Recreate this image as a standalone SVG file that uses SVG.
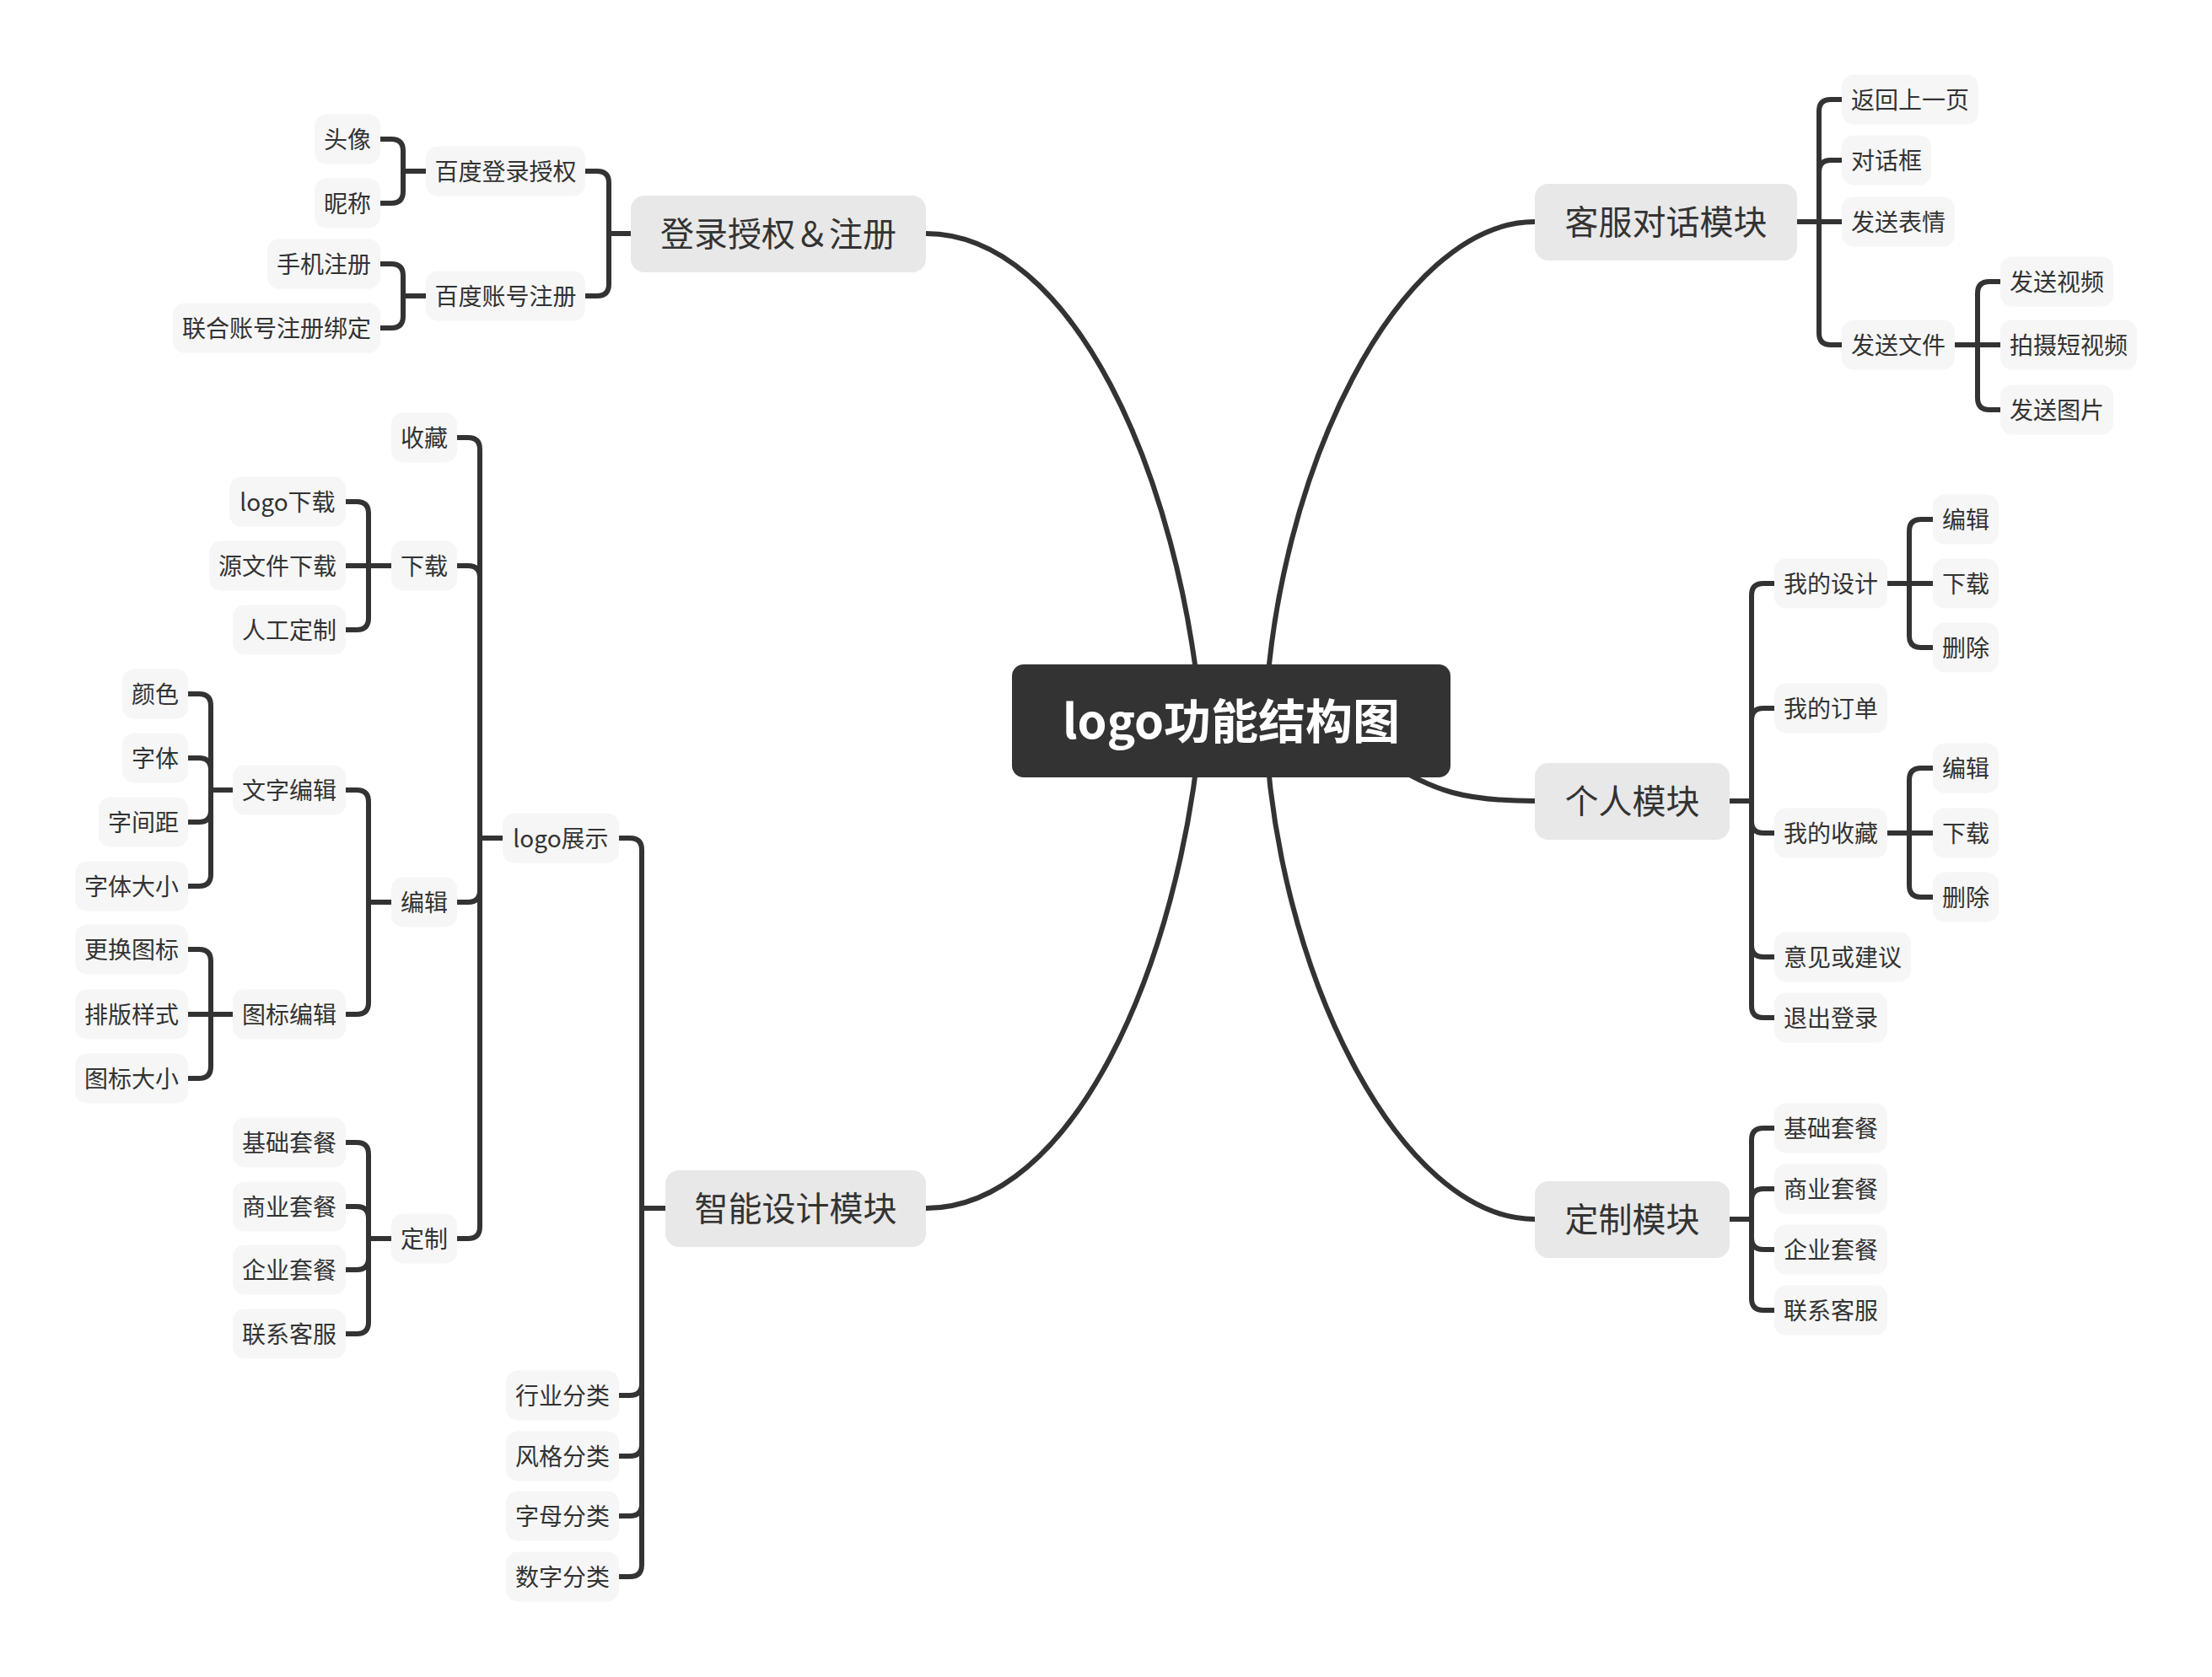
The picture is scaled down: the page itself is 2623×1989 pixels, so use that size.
<svg xmlns="http://www.w3.org/2000/svg" width="2623" height="1989" viewBox="0 0 2623 1989">
<style>
text{font-family:"Noto Sans CJK SC","Noto Sans",sans-serif;fill:#333;text-anchor:middle;dominant-baseline:central}
.leaf rect{fill:#f6f6f6}
.leaf text{font-size:28px}
.br rect{fill:#e8e8e8}
.br text{font-size:40px}
#root rect{fill:#333}
#root text{fill:#fff;font-size:56px;font-weight:bold}
#connectors path{fill:none;stroke:#333;stroke-width:6}
</style>
<rect width="2623" height="1989" fill="#fff"/>
<g id="connectors">
<path d="M1098 277 C1270 277 1400 560 1425 860"/>
<path d="M1820 263 C1660 263 1510 560 1500 860"/>
<path d="M1098 1433 C1270 1433 1400 1150 1425 850"/>
<path d="M1820 1446 C1660 1446 1510 1150 1500 850"/>
<path d="M1820 950 C1740 950 1700 940 1640 900 L1500 860"/>
<path d="M2131 263 H2157 V132 Q2157 118 2171 118 H2184"/>
<path d="M2131 263 H2157 V204 Q2157 190 2171 190 H2184"/>
<path d="M2131 263 H2184"/>
<path d="M2131 263 H2157 V395 Q2157 409 2171 409 H2184"/>
<path d="M2318 409 H2345 V348 Q2345 334 2359 334 H2372"/>
<path d="M2318 409 H2372"/>
<path d="M2318 409 H2345 V472 Q2345 486 2359 486 H2372"/>
<path d="M2051 950 H2077 V706 Q2077 692 2091 692 H2104"/>
<path d="M2051 950 H2077 V854 Q2077 840 2091 840 H2104"/>
<path d="M2051 950 H2077 V974 Q2077 988 2091 988 H2104"/>
<path d="M2051 950 H2077 V1121 Q2077 1135 2091 1135 H2104"/>
<path d="M2051 950 H2077 V1193 Q2077 1207 2091 1207 H2104"/>
<path d="M2238 692 H2264 V630 Q2264 616 2278 616 H2292"/>
<path d="M2238 692 H2292"/>
<path d="M2238 692 H2264 V754 Q2264 768 2278 768 H2292"/>
<path d="M2238 988 H2264 V925 Q2264 911 2278 911 H2292"/>
<path d="M2238 988 H2292"/>
<path d="M2238 988 H2264 V1050 Q2264 1064 2278 1064 H2292"/>
<path d="M2051 1446 H2077 V1352 Q2077 1338 2091 1338 H2104"/>
<path d="M2051 1446 H2077 V1424 Q2077 1410 2091 1410 H2104"/>
<path d="M2051 1446 H2077 V1468 Q2077 1482 2091 1482 H2104"/>
<path d="M2051 1446 H2077 V1540 Q2077 1554 2091 1554 H2104"/>
<path d="M748 277 H722 V217 Q722 203 708 203 H694"/>
<path d="M748 277 H722 V337 Q722 351 708 351 H694"/>
<path d="M505 203 H478 V179 Q478 165 464 165 H451"/>
<path d="M505 203 H478 V227 Q478 241 464 241 H451"/>
<path d="M505 351 H478 V327 Q478 313 464 313 H451"/>
<path d="M505 351 H478 V375 Q478 389 464 389 H451"/>
<path d="M789 1433 H761 V1008 Q761 994 747 994 H734"/>
<path d="M789 1433 H761 V1641 Q761 1655 747 1655 H734"/>
<path d="M789 1433 H761 V1713 Q761 1727 747 1727 H734"/>
<path d="M789 1433 H761 V1784 Q761 1798 747 1798 H734"/>
<path d="M789 1433 H761 V1856 Q761 1870 747 1870 H734"/>
<path d="M596 994 H569 V533 Q569 519 555 519 H542"/>
<path d="M596 994 H569 V685 Q569 671 555 671 H542"/>
<path d="M596 994 H569 V1056 Q569 1070 555 1070 H542"/>
<path d="M596 994 H569 V1455 Q569 1469 555 1469 H542"/>
<path d="M464 671 H437 V609 Q437 595 423 595 H410"/>
<path d="M464 671 H410"/>
<path d="M464 671 H437 V733 Q437 747 423 747 H410"/>
<path d="M464 1070 H437 V951 Q437 937 423 937 H410"/>
<path d="M464 1070 H437 V1189 Q437 1203 423 1203 H410"/>
<path d="M464 1469 H437 V1369 Q437 1355 423 1355 H410"/>
<path d="M464 1469 H437 V1445 Q437 1431 423 1431 H410"/>
<path d="M464 1469 H437 V1492 Q437 1506 423 1506 H410"/>
<path d="M464 1469 H437 V1568 Q437 1582 423 1582 H410"/>
<path d="M276 937 H250 V837 Q250 823 236 823 H223"/>
<path d="M276 937 H250 V913 Q250 899 236 899 H223"/>
<path d="M276 937 H250 V961 Q250 975 236 975 H223"/>
<path d="M276 937 H250 V1037 Q250 1051 236 1051 H223"/>
<path d="M276 1203 H250 V1140 Q250 1126 236 1126 H223"/>
<path d="M276 1203 H223"/>
<path d="M276 1203 H250 V1265 Q250 1279 236 1279 H223"/>
</g>

<g id="root"><rect x="1200" y="788" width="520" height="134" rx="14"/><text x="1460" y="851">logo功能结构图</text></g>

<g id="n-denglu" class="br"><rect x="748" y="232" width="350" height="91" rx="16"/><text x="923" y="275">登录授权＆注册</text></g>
<g id="n-kefu" class="br"><rect x="1820" y="218" width="311" height="91" rx="16"/><text x="1975.5" y="261">客服对话模块</text></g>
<g id="n-geren" class="br"><rect x="1820" y="905" width="231" height="91" rx="16"/><text x="1935.5" y="948">个人模块</text></g>
<g id="n-dingzhi" class="br"><rect x="1820" y="1401" width="231" height="91" rx="16"/><text x="1935.5" y="1444">定制模块</text></g>
<g id="n-zhineng" class="br"><rect x="789" y="1388" width="309" height="91" rx="16"/><text x="943.5" y="1431">智能设计模块</text></g>

<g id="n-bddl" class="leaf"><rect x="505" y="173.5" width="189" height="59" rx="14"/><text x="599.5" y="201.5">百度登录授权</text></g>
<g id="n-bdzh" class="leaf"><rect x="505" y="321.5" width="189" height="59" rx="14"/><text x="599.5" y="349.5">百度账号注册</text></g>
<g id="n-tx" class="leaf"><rect x="373" y="135.5" width="78" height="59" rx="14"/><text x="412" y="163.5">头像</text></g>
<g id="n-nc" class="leaf"><rect x="373" y="211.5" width="78" height="59" rx="14"/><text x="412" y="239.5">昵称</text></g>
<g id="n-sjzc" class="leaf"><rect x="317" y="283.5" width="134" height="59" rx="14"/><text x="384" y="311.5">手机注册</text></g>
<g id="n-lhzh" class="leaf"><rect x="205" y="359.5" width="246" height="59" rx="14"/><text x="328" y="387.5">联合账号注册绑定</text></g>

<g id="n-fhsyy" class="leaf"><rect x="2184" y="88.5" width="162" height="59" rx="14"/><text x="2265" y="116.5">返回上一页</text></g>
<g id="n-dhk" class="leaf"><rect x="2184" y="160.5" width="106" height="59" rx="14"/><text x="2237" y="188.5">对话框</text></g>
<g id="n-fsbq" class="leaf"><rect x="2184" y="233.5" width="134" height="59" rx="14"/><text x="2251" y="261.5">发送表情</text></g>
<g id="n-fswj" class="leaf"><rect x="2184" y="379.5" width="134" height="59" rx="14"/><text x="2251" y="407.5">发送文件</text></g>
<g id="n-fssp" class="leaf"><rect x="2372" y="304.5" width="134" height="59" rx="14"/><text x="2439" y="332.5">发送视频</text></g>
<g id="n-psdsp" class="leaf"><rect x="2372" y="379.5" width="162" height="59" rx="14"/><text x="2453" y="407.5">拍摄短视频</text></g>
<g id="n-fstp" class="leaf"><rect x="2372" y="456.5" width="134" height="59" rx="14"/><text x="2439" y="484.5">发送图片</text></g>

<g id="n-wdsj" class="leaf"><rect x="2104" y="662.5" width="134" height="59" rx="14"/><text x="2171" y="690.5">我的设计</text></g>
<g id="n-wddd" class="leaf"><rect x="2104" y="810.5" width="134" height="59" rx="14"/><text x="2171" y="838.5">我的订单</text></g>
<g id="n-wdsc" class="leaf"><rect x="2104" y="958.5" width="134" height="59" rx="14"/><text x="2171" y="986.5">我的收藏</text></g>
<g id="n-yjhjy" class="leaf"><rect x="2104" y="1105.5" width="162" height="59" rx="14"/><text x="2185" y="1133.5">意见或建议</text></g>
<g id="n-tcdl" class="leaf"><rect x="2104" y="1177.5" width="134" height="59" rx="14"/><text x="2171" y="1205.5">退出登录</text></g>
<g id="n-bj1" class="leaf"><rect x="2292" y="586.5" width="78" height="59" rx="14"/><text x="2331" y="614.5">编辑</text></g>
<g id="n-xz1" class="leaf"><rect x="2292" y="662.5" width="78" height="59" rx="14"/><text x="2331" y="690.5">下载</text></g>
<g id="n-sc1" class="leaf"><rect x="2292" y="738.5" width="78" height="59" rx="14"/><text x="2331" y="766.5">删除</text></g>
<g id="n-bj2" class="leaf"><rect x="2292" y="881.5" width="78" height="59" rx="14"/><text x="2331" y="909.5">编辑</text></g>
<g id="n-xz2" class="leaf"><rect x="2292" y="958.5" width="78" height="59" rx="14"/><text x="2331" y="986.5">下载</text></g>
<g id="n-sc2" class="leaf"><rect x="2292" y="1034.5" width="78" height="59" rx="14"/><text x="2331" y="1062.5">删除</text></g>

<g id="n-jctc-r" class="leaf"><rect x="2104" y="1308.5" width="134" height="59" rx="14"/><text x="2171" y="1336.5">基础套餐</text></g>
<g id="n-sytc-r" class="leaf"><rect x="2104" y="1380.5" width="134" height="59" rx="14"/><text x="2171" y="1408.5">商业套餐</text></g>
<g id="n-qytc-r" class="leaf"><rect x="2104" y="1452.5" width="134" height="59" rx="14"/><text x="2171" y="1480.5">企业套餐</text></g>
<g id="n-lxkf-r" class="leaf"><rect x="2104" y="1524.5" width="134" height="59" rx="14"/><text x="2171" y="1552.5">联系客服</text></g>

<g id="n-logozs" class="leaf"><rect x="596" y="964.5" width="138" height="59" rx="14"/><text x="665" y="992.5">logo展示</text></g>
<g id="n-hyfl" class="leaf"><rect x="600" y="1625.5" width="134" height="59" rx="14"/><text x="667" y="1653.5">行业分类</text></g>
<g id="n-fgfl" class="leaf"><rect x="600" y="1697.5" width="134" height="59" rx="14"/><text x="667" y="1725.5">风格分类</text></g>
<g id="n-zmfl" class="leaf"><rect x="600" y="1768.5" width="134" height="59" rx="14"/><text x="667" y="1796.5">字母分类</text></g>
<g id="n-szfl" class="leaf"><rect x="600" y="1840.5" width="134" height="59" rx="14"/><text x="667" y="1868.5">数字分类</text></g>

<g id="n-shoucang" class="leaf"><rect x="464" y="489.5" width="78" height="59" rx="14"/><text x="503" y="517.5">收藏</text></g>
<g id="n-xiazai" class="leaf"><rect x="464" y="641.5" width="78" height="59" rx="14"/><text x="503" y="669.5">下载</text></g>
<g id="n-bianji" class="leaf"><rect x="464" y="1040.5" width="78" height="59" rx="14"/><text x="503" y="1068.5">编辑</text></g>
<g id="n-dz" class="leaf"><rect x="464" y="1439.5" width="78" height="59" rx="14"/><text x="503" y="1467.5">定制</text></g>

<g id="n-logoxz" class="leaf"><rect x="272" y="565.5" width="138" height="59" rx="14"/><text x="341" y="593.5">logo下载</text></g>
<g id="n-ywjxz" class="leaf"><rect x="248" y="641.5" width="162" height="59" rx="14"/><text x="329" y="669.5">源文件下载</text></g>
<g id="n-rgdz" class="leaf"><rect x="276" y="717.5" width="134" height="59" rx="14"/><text x="343" y="745.5">人工定制</text></g>

<g id="n-wzbj" class="leaf"><rect x="276" y="907.5" width="134" height="59" rx="14"/><text x="343" y="935.5">文字编辑</text></g>
<g id="n-tbbj" class="leaf"><rect x="276" y="1173.5" width="134" height="59" rx="14"/><text x="343" y="1201.5">图标编辑</text></g>

<g id="n-ys" class="leaf"><rect x="145" y="793.5" width="78" height="59" rx="14"/><text x="184" y="821.5">颜色</text></g>
<g id="n-zt" class="leaf"><rect x="145" y="869.5" width="78" height="59" rx="14"/><text x="184" y="897.5">字体</text></g>
<g id="n-zjj" class="leaf"><rect x="117" y="945.5" width="106" height="59" rx="14"/><text x="170" y="973.5">字间距</text></g>
<g id="n-ztdx" class="leaf"><rect x="89" y="1021.5" width="134" height="59" rx="14"/><text x="156" y="1049.5">字体大小</text></g>
<g id="n-ghtb" class="leaf"><rect x="89" y="1096.5" width="134" height="59" rx="14"/><text x="156" y="1124.5">更换图标</text></g>
<g id="n-pbys" class="leaf"><rect x="89" y="1173.5" width="134" height="59" rx="14"/><text x="156" y="1201.5">排版样式</text></g>
<g id="n-tbdx" class="leaf"><rect x="89" y="1249.5" width="134" height="59" rx="14"/><text x="156" y="1277.5">图标大小</text></g>

<g id="n-jctc-l" class="leaf"><rect x="276" y="1325.5" width="134" height="59" rx="14"/><text x="343" y="1353.5">基础套餐</text></g>
<g id="n-sytc-l" class="leaf"><rect x="276" y="1401.5" width="134" height="59" rx="14"/><text x="343" y="1429.5">商业套餐</text></g>
<g id="n-qytc-l" class="leaf"><rect x="276" y="1476.5" width="134" height="59" rx="14"/><text x="343" y="1504.5">企业套餐</text></g>
<g id="n-lxkf-l" class="leaf"><rect x="276" y="1552.5" width="134" height="59" rx="14"/><text x="343" y="1580.5">联系客服</text></g>
</svg>
